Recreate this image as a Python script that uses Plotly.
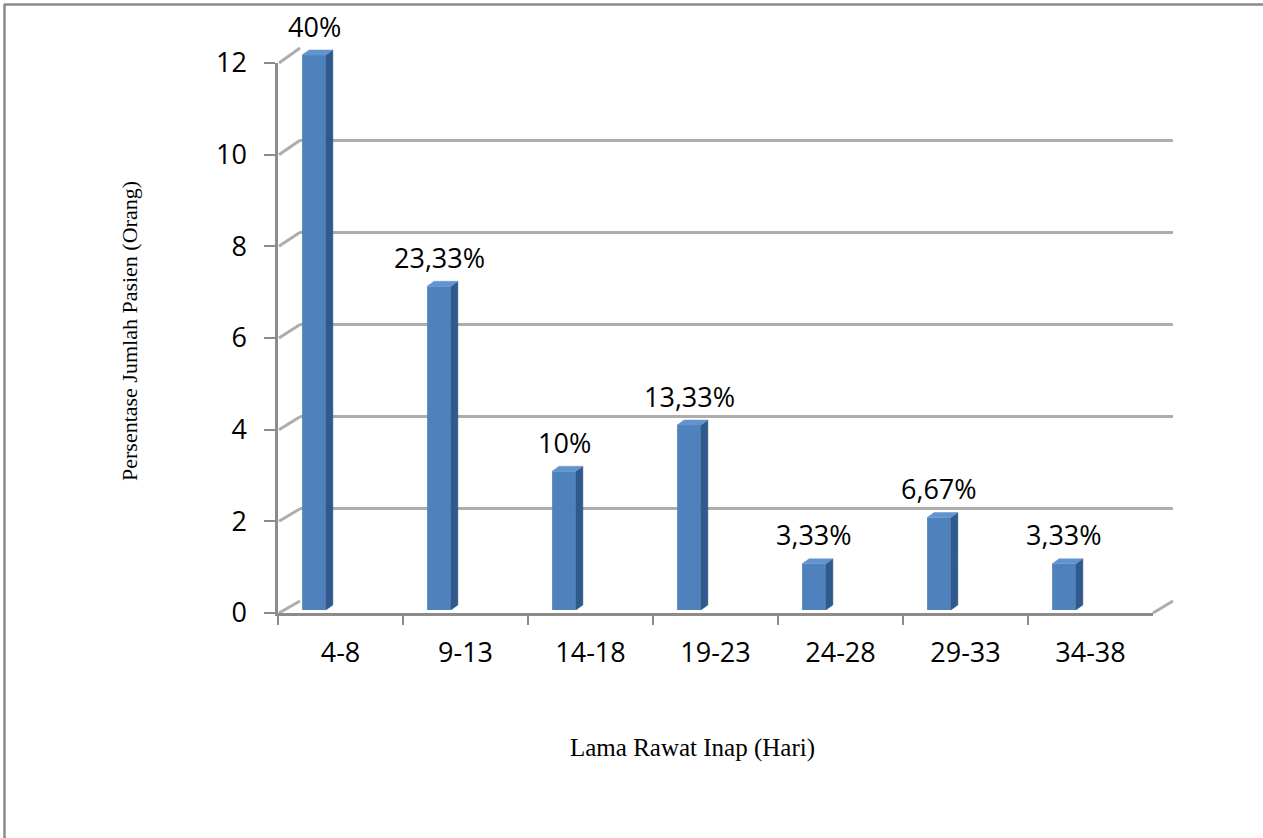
import plotly.graph_objects as go

# ---- data -------------------------------------------------------------
categories = ["4-8", "9-13", "14-18", "19-23", "24-28", "29-33", "34-38"]
jumlah = [12, 7, 3, 4, 1, 2, 1]
persen = ["40%", "23,33%", "10%", "13,33%", "3,33%", "6,67%", "3,33%"]
y_ticks = [0, 2, 4, 6, 8, 10, 12]

x_title = "Lama Rawat Inap (Hari)"
y_title = "Persentase Jumlah Pasien (Orang)"

# ---- geometry (page pixels) -------------------------------------------
W, H = 1263, 838
Y_MAX = 12


def fx(p):
    return p / W


def fy(p):
    return 1 - p / H


# front axes (tick labels)
FRONT_X = (278, 1153)
FRONT_Y = (613, 63)      # pixel of 0 and of Y_MAX
# back wall (gridlines)
BACK_X = (300, 1173)
BACK_Y = (601, 48)
# bars: first bar centre, pixels per category, zero line, pixels per unit
BAR_X0, BAR_STEP = 314, 125
BAR_Y0, BAR_UNIT = 610, 46.25

BAR_W = 0.19
DX = 7 / BAR_STEP
DY = 5 / BAR_UNIT

FRONT_C = "#4f81bd"
SIDE_C = "#305a8c"
TOP_C = "#6393cf"
GRID_C = "#adadad"
AXIS_C = "#8c8c8c"

SANS = "Open Sans, DejaVu Sans, sans-serif"
SERIF = "Liberation Serif, Times New Roman, serif"

idx = list(range(len(categories)))

fig = go.Figure()

# front axes subplot (category labels + y ticks)
fig.add_trace(go.Scatter(x=categories, y=jumlah, mode="markers",
                         marker=dict(opacity=0), hoverinfo="skip",
                         showlegend=False, xaxis="x", yaxis="y"))
# back wall subplot (gridlines)
fig.add_trace(go.Scatter(x=[0], y=[0], mode="markers",
                         marker=dict(opacity=0), hoverinfo="skip",
                         showlegend=False, xaxis="x2", yaxis="y2"))

# bar front faces
fig.add_trace(go.Bar(x=idx, y=jumlah, width=BAR_W, marker=dict(color=FRONT_C, line=dict(width=0)),
                     showlegend=False, hoverinfo="skip", xaxis="x3", yaxis="y3"))

# bar side and top faces
side_x, side_y, top_x, top_y = [], [], [], []
for i, v in zip(idx, jumlah):
    xl, xr = i - BAR_W / 2, i + BAR_W / 2
    side_x += [xr, xr + DX, xr + DX, xr, xr, None]
    side_y += [0, DY, v + DY, v, 0, None]
    top_x += [xl, xr, xr + DX, xl + DX, xl, None]
    top_y += [v, v, v + DY, v + DY, v, None]

fig.add_trace(go.Scatter(x=side_x, y=side_y, mode="lines", fill="toself",
                         fillcolor=SIDE_C, line=dict(color=SIDE_C, width=0.5),
                         hoverinfo="skip", showlegend=False, xaxis="x3", yaxis="y3"))
fig.add_trace(go.Scatter(x=top_x, y=top_y, mode="lines", fill="toself",
                         fillcolor=TOP_C, line=dict(color=TOP_C, width=0.5),
                         hoverinfo="skip", showlegend=False, xaxis="x3", yaxis="y3"))

# value labels above the bars
annotations = []
for i, v, t in zip(idx, jumlah, persen):
    annotations.append(dict(x=i, y=v, xref="x3", yref="y3", text=t, showarrow=False,
                            xanchor="center", yanchor="middle", yshift=29,
                            font=dict(family=SANS, size=27, color="#000000")))

# axis titles
annotations.append(dict(x=fx(692), y=fy(748), xref="paper", yref="paper", text=x_title,
                        xanchor="center", yanchor="middle", showarrow=False,
                        font=dict(family=SERIF, size=25, color="#000000")))
annotations.append(dict(x=fx(129), y=fy(331), xref="paper", yref="paper", text=y_title,
                        xanchor="center", yanchor="middle", showarrow=False, textangle=-90,
                        font=dict(family=SERIF, size=22, color="#000000")))

shapes = []
# side wall lines joining the front ticks to the back gridlines
for v in y_ticks:
    y_front = FRONT_Y[0] + (FRONT_Y[1] - FRONT_Y[0]) * v / Y_MAX
    y_back = BACK_Y[0] + (BACK_Y[1] - BACK_Y[0]) * v / Y_MAX
    shapes.append(dict(type="line", xref="paper", yref="paper",
                       x0=fx(FRONT_X[0] + 1), y0=fy(y_front), x1=fx(BACK_X[0]), y1=fy(y_back),
                       line=dict(color=GRID_C, width=3), layer="below"))
# right edge of the floor
shapes.append(dict(type="line", xref="paper", yref="paper",
                   x0=fx(FRONT_X[1]), y0=fy(FRONT_Y[0]), x1=fx(BACK_X[1]), y1=fy(BACK_Y[0]),
                   line=dict(color=GRID_C, width=3), layer="below"))
# frame along the top and left of the page
shapes.append(dict(type="line", xref="paper", yref="paper", x0=fx(4), y0=fy(4.5), x1=1, y1=fy(4.5),
                   line=dict(color="#8a8a8a", width=2.5)))
shapes.append(dict(type="line", xref="paper", yref="paper", x0=fx(4.5), y0=fy(4), x1=fx(4.5), y1=0,
                   line=dict(color="#8a8a8a", width=2.5)))

bar_xr0 = -BAR_X0 / BAR_STEP
bar_yr0 = -(H - BAR_Y0) / BAR_UNIT

fig.update_layout(
    width=W, height=H,
    margin=dict(l=0, r=0, t=0, b=0, pad=0, autoexpand=False),
    paper_bgcolor="#ffffff",
    plot_bgcolor="rgba(0,0,0,0)",
    showlegend=False,
    xaxis=dict(domain=[fx(FRONT_X[0]), fx(FRONT_X[1])], type="category",
               categoryorder="array", categoryarray=categories,
               range=[-0.5, len(categories) - 0.5], anchor="y", automargin=False,
               showline=True, linecolor=AXIS_C, linewidth=2.5,
               ticks="outside", ticklen=9, tickwidth=2, tickcolor=AXIS_C,
               tickson="boundaries", showgrid=False, zeroline=False,
               ticklabelstandoff=14,
               tickfont=dict(family=SANS, size=27, color="#000000"), fixedrange=True),
    yaxis=dict(domain=[fy(FRONT_Y[0]), fy(FRONT_Y[1])], range=[0, Y_MAX], anchor="x",
               automargin=False,
               tickvals=y_ticks, showline=True, linecolor=AXIS_C, linewidth=2.5,
               ticks="outside", ticklen=11, tickwidth=2, tickcolor=AXIS_C,
               showgrid=False, zeroline=False, ticklabelstandoff=12,
               tickfont=dict(family=SANS, size=27, color="#000000"), fixedrange=True),
    xaxis2=dict(domain=[fx(BACK_X[0]), fx(BACK_X[1])], range=[0, 1], anchor="y2",
                automargin=False, visible=False, fixedrange=True),
    yaxis2=dict(domain=[fy(BACK_Y[0]), fy(BACK_Y[1])], range=[0, Y_MAX], anchor="x2",
                automargin=False,
                tickvals=y_ticks, showgrid=True, gridcolor=GRID_C, gridwidth=3,
                showticklabels=False, ticks="", showline=False, zeroline=False, fixedrange=True),
    xaxis3=dict(domain=[0, 1], range=[bar_xr0, bar_xr0 + W / BAR_STEP], anchor="y3",
                automargin=False, visible=False, fixedrange=True),
    yaxis3=dict(domain=[0, 1], range=[bar_yr0, bar_yr0 + H / BAR_UNIT], anchor="x3",
                automargin=False, visible=False, fixedrange=True),
    annotations=annotations,
    shapes=shapes,
)

fig.write_html("out.html")
